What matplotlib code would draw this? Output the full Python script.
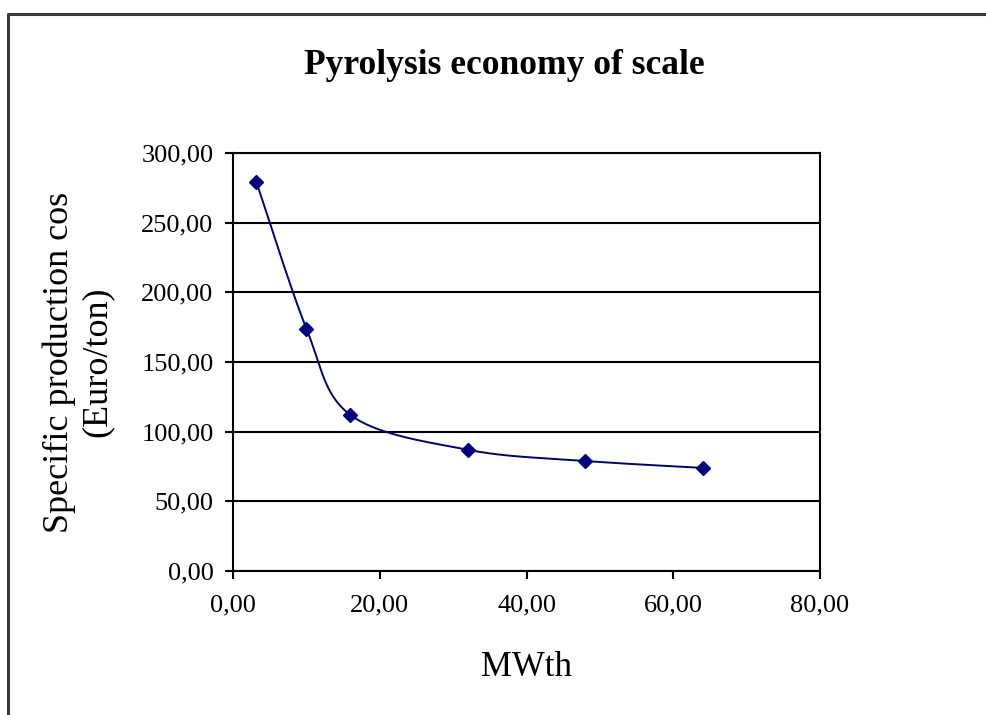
import numpy as np
import matplotlib
matplotlib.use("Agg")
import matplotlib.pyplot as plt
from matplotlib.lines import Line2D
from matplotlib.ticker import FuncFormatter, MultipleLocator

# Plant capacity (MWth) and specific production cost (Euro/ton)
capacity_mwth = [3.2, 10.0, 16.0, 32.0, 48.0, 64.0]
cost_euro_ton = [279.0, 174.0, 112.0, 87.0, 79.0, 74.0]

title_text = "Pyrolysis economy of scale"
x_label = "MWth"
y_label = "Specific production cos\n(Euro/ton)"

plt.rcParams["font.family"] = ["Liberation Serif", "DejaVu Serif"]

NAVY = "#000080"


def smooth_curve(xs, ys, samples=40):
    """Piecewise cubic Bezier through the points (Catmull-Rom style tangents)."""
    p = np.column_stack([xs, ys]).astype(float)
    n = len(p)
    out = []
    t = np.linspace(0, 1, samples)[:, None]
    for i in range(n - 1):
        p0 = p[max(i - 1, 0)]
        p1 = p[i]
        p2 = p[i + 1]
        p3 = p[min(i + 2, n - 1)]
        c1 = p1 + (p2 - p0) / 6.0
        c2 = p2 - (p3 - p1) / 6.0
        seg = ((1 - t) ** 3) * p1 + 3 * ((1 - t) ** 2) * t * c1 \
            + 3 * (1 - t) * (t ** 2) * c2 + (t ** 3) * p2
        out.append(seg if i == 0 else seg[1:])
    seg = np.vstack(out)
    return seg[:, 0], seg[:, 1]


fig = plt.figure(figsize=(9.87, 7.15), dpi=100)
ax = fig.add_axes([233 / 987, 1 - 571 / 715, (820 - 233) / 987, (571 - 153) / 715])

sx, sy = smooth_curve(capacity_mwth, cost_euro_ton)
ax.plot(sx, sy, color=NAVY, lw=1.4, zorder=3)
ax.plot(capacity_mwth, cost_euro_ton, linestyle="none", marker="D",
        markersize=7, color=NAVY, markeredgecolor=NAVY, zorder=4)

ax.set_xlim(0, 80)
ax.set_ylim(0, 300)
ax.xaxis.set_major_locator(MultipleLocator(20))
ax.yaxis.set_major_locator(MultipleLocator(50))
comma_fmt = FuncFormatter(lambda v, pos: f"{v:.2f}".replace(".", ","))
ax.xaxis.set_major_formatter(comma_fmt)
ax.yaxis.set_major_formatter(comma_fmt)

ax.grid(axis="y", color="black", lw=1.5)
ax.set_axisbelow(True)
for side in ("left", "bottom", "right", "top"):
    ax.spines[side].set_linewidth(1.5)
    ax.spines[side].set_color("black")

ax.tick_params(axis="both", direction="out", length=6, width=1.5,
               labelsize=19, colors="black")
ax.tick_params(axis="y", pad=8)
ax.tick_params(axis="x", pad=11)

ax.set_xlabel(x_label, fontsize=25, labelpad=25)
ax.set_ylabel(y_label, fontsize=26, labelpad=20, linespacing=1.2)

fig.text(504 / 987, 1 - 65 / 715, title_text, ha="center", va="center",
         fontsize=25.5, fontweight="bold")

# Chart-area border (top and left edges)
frame = Line2D([8 / 987, 8 / 987, 1.0], [0.0, 1 - 13.5 / 715, 1 - 13.5 / 715],
               transform=fig.transFigure, color="#3a3a3a", lw=2.2)
fig.add_artist(frame)

fig.savefig("out.png", dpi=100)
